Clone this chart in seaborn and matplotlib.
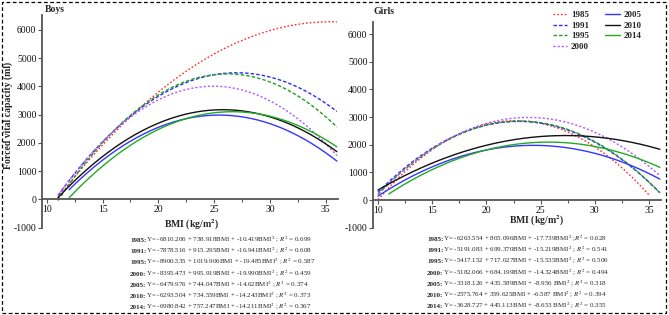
import numpy as np
import pandas as pd
import matplotlib
matplotlib.use("Agg")
import matplotlib.pyplot as plt
import seaborn as sns
from matplotlib.lines import Line2D
from matplotlib.patches import Rectangle

sns.set_style("ticks")
# Times 风格字体, 公式用 stix
plt.rcParams["font.family"] = ["Liberation Serif", "DejaVu Serif"]
plt.rcParams["mathtext.fontset"] = "stix"
plt.rcParams["axes.unicode_minus"] = False

years = ["1985", "1991", "1995", "2000", "2005", "2010", "2014"]

# 回归方程系数: Y = a + b*BMI + c*BMI^2
boys_a = [-6810.206, -7878.516, -8900.535, -8395.473, -6479.976, -6293.504, -6980.842]
boys_b = [738.918, 915.295, 1019.906, 995.919, 744.047, 734.559, 757.247]
boys_c = [-10.419, -16.941, -19.485, -19.990, -14.62, -14.243, -14.211]
boys_start = [11, 11, 11, 11, 12, 11, 12]
boys_end = [36, 36, 36, 36, 36, 36, 36]
boys_eq = [
    "Y= -6810.206 + 738.918BMI + -10.419BMI$^2$ ; $R^2$ = 0.699",
    "Y= -7878.516 + 915.295BMI + -16.941BMI$^2$ ; $R^2$ = 0.608",
    "Y= -8900.535 + 1019.906BMI + -19.485BMI$^2$ ; $R^2$ = 0.587",
    "Y= -8395.473 + 995.919BMI + -19.990BMI$^2$ ; $R^2$ = 0.459",
    "Y= -6479.976 + 744.047BMI + -14.62BMI$^2$ ; $R^2$ = 0.374",
    "Y= -6293.504 + 734.559BMI + -14.243BMI$^2$ ; $R^2$ = 0.373",
    "Y= -6980.842 + 757.247BMI + -14.211BMI$^2$ ; $R^2$ = 0.367",
]

girls_a = [-6263.554, -5191.083, -5417.152, -5182.066, -3318.126, -2575.764, -3628.727]
girls_b = [805.096, 699.370, 717.027, 684.199, 435.589, 359.625, 445.113]
girls_c = [-17.739, -15.219, -15.535, -14.324, -8.956, -6.587, -8.653]
girls_start = [10, 10, 10, 10, 10, 10, 11]
girls_end = [35, 36, 36, 36, 36, 36, 36]
girls_eq = [
    "Y= -6263.554 + 805.096BMI + -17.739BMI$^2$ ;$R^2$ = 0.628",
    "Y= -5191.083 + 699.370BMI + -15.219BMI$^2$ ; $R^2$ = 0.541",
    "Y= -5417.152 + 717.027BMI + -15.535BMI$^2$ ; $R^2$ = 0.506",
    "Y= -5182.066 + 684.199BMI + -14.324BMI$^2$ ; $R^2$ = 0.494",
    "Y= -3318.126 + 435.589BMI + -8.956 BMI$^2$ ; $R^2$ = 0.318",
    "Y= -2575.764 + 359.625BMI + -6.587 BMI$^2$ ; $R^2$ = 0.394",
    "Y= -3628.727 + 445.113BMI + -8.653 BMI$^2$ ; $R^2$ = 0.355",
]

palette = {"1985": "#ff2b2b", "1991": "#2a2aff", "1995": "#1fa01f", "2000": "#b455ff",
           "2005": "#3535ff", "2010": "#111111", "2014": "#22aa22"}
dashes = {"1985": (1.2, 1.5), "1991": (2.5, 1.5), "1995": (2.5, 1.5), "2000": (1.5, 1.5),
          "2005": "", "2010": "", "2014": ""}


def make_df(a, b, c, start, end):
    rows = []
    for i, y in enumerate(years):
        bmi = np.linspace(start[i], end[i], 200)
        fvc = a[i] + b[i] * bmi + c[i] * bmi ** 2
        rows.append(pd.DataFrame({"BMI": bmi, "FVC": fvc, "year": y}))
    return pd.concat(rows, ignore_index=True)


W, H = 669, 315
fig = plt.figure(figsize=(W / 100, H / 100), dpi=100)


def px_axes(left, top, right, bottom):
    return fig.add_axes([left / W, 1 - bottom / H, (right - left) / W, (bottom - top) / H])


ax1 = px_axes(42, 15, 338, 227.7)
ax2 = px_axes(373, 21.7, 661, 227.7)

panels = [
    (ax1, make_df(boys_a, boys_b, boys_c, boys_start, boys_end), (9.57, 36.1), 6530),
    (ax2, make_df(girls_a, girls_b, girls_c, girls_start, girls_end), (9.54, 36.1), 6450),
]

for ax, df, xl, ytop in panels:
    sns.lineplot(data=df, x="BMI", y="FVC", hue="year", style="year", palette=palette,
                 dashes=dashes, linewidth=1, legend=False, ax=ax, sort=False)
    ax.set_xlim(*xl)
    ax.set_ylim(-1000, ytop)
    ax.set_xticks([10, 15, 20, 25, 30, 35])
    ax.set_xticks(np.arange(12.5, 36, 5), minor=True)
    ax.set_yticks(np.arange(-1000, 6001, 1000))
    ax.spines["bottom"].set_position(("data", 0))
    ax.spines["top"].set_visible(False)
    ax.spines["right"].set_visible(False)
    for s in ["left", "bottom"]:
        ax.spines[s].set_color("#555555")
        ax.spines[s].set_linewidth(1.3)
    ax.tick_params(axis="both", which="major", labelsize=7, length=3, width=0.8, pad=1,
                   direction="out", colors="#555555", labelcolor="#111111")
    ax.tick_params(axis="x", which="minor", length=2, width=0.8, direction="out", colors="#555555")
    ax.set_xlabel("")
    ax.set_ylabel("")

# 标题与坐标轴标签
fig.text(45 / W, 1 - 9.5 / H, "Boys", fontsize=7, fontweight="bold", va="center", ha="left")
fig.text(373 / W, 1 - 12 / H, "Girls", fontsize=7, fontweight="bold", va="center", ha="left")
fig.text(8 / W, 1 - 115 / H, "Forced vital capacity (ml)", fontsize=7, fontweight="bold",
         rotation=90, va="center", ha="center")
fig.text(192 / W, 1 - 225 / H, "BMI (kg/m$^\\mathbf{2}$)", fontsize=7, fontweight="bold",
         va="center", ha="center")
fig.text(537 / W, 1 - 221 / H, "BMI (kg/m$^\\mathbf{2}$)", fontsize=7, fontweight="bold",
         va="center", ha="center")

# 回归方程: 年份加粗, 后面接普通文字
renderer = fig.canvas.get_renderer()
for x0, y0, eqs in [(130, 242, boys_eq), (427, 241, girls_eq)]:
    for i, y in enumerate(years):
        yy = 1 - (y0 + i * 11.2) / H
        t = fig.text(x0 / W, yy, y + ":", fontsize=5, fontweight="bold", va="baseline", ha="left")
        bb = t.get_window_extent(renderer)
        fig.text(bb.x1 / W, yy, eqs[i], fontsize=5, va="baseline", ha="left")

# 图例
handles = []
for y in years:
    if dashes[y] == "":
        handles.append(Line2D([], [], color=palette[y], lw=1, linestyle="-"))
    else:
        handles.append(Line2D([], [], color=palette[y], lw=1, dashes=dashes[y]))
leg = fig.legend(handles, years, loc="upper left", bbox_to_anchor=(553 / W, 1 - 11 / H),
                 ncol=2, frameon=False, fontsize=6.5, handlelength=1.6, handletextpad=0.4,
                 labelspacing=0.25, columnspacing=1.8, borderpad=0, borderaxespad=0)
for t in leg.get_texts():
    t.set_fontweight("bold")

# 外围虚线框
fig.patches.append(Rectangle((2 / W, 2 / H), 664 / W, 311 / H, transform=fig.transFigure,
                             fill=False, edgecolor="black", linestyle=(0, (3, 2)), lw=0.9))

fig.savefig("out.png", dpi=100)
